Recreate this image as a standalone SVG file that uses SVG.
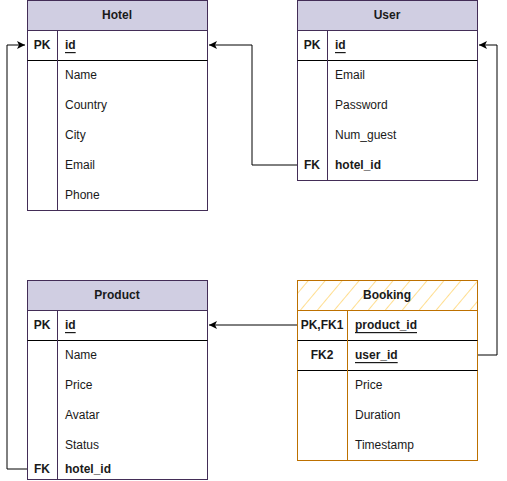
<svg xmlns="http://www.w3.org/2000/svg" width="507" height="481" viewBox="0 0 507 481">
<style>
text{font-family:"Liberation Sans",Arial,sans-serif;font-size:12px;fill:#1a1a1a;dominant-baseline:central}
.h{font-weight:bold;text-anchor:middle}
.k{font-weight:bold;text-anchor:middle}
.b{font-weight:bold}
.u{text-decoration:underline}
.hp{fill:#d0cee2;stroke:#432D57;stroke-width:1}
.bp{fill:#fff;stroke:#432D57;stroke-width:1}
.ho{fill:url(#hatch);stroke:#BD7000;stroke-width:1}
.bo{fill:#fff;stroke:#BD7000;stroke-width:1}
.sep{stroke:#000;stroke-width:1}
.dp{stroke:#432D57;stroke-width:1}
.do{stroke:#BD7000;stroke-width:1}
.c{fill:none;stroke:#000;stroke-width:1}
</style>
<defs>
<pattern id="hatch" patternUnits="userSpaceOnUse" width="13" height="13" patternTransform="rotate(40)">
<rect width="13" height="13" fill="#fff"/>
<line x1="0" y1="0" x2="0" y2="13" stroke="#FFC845" stroke-width="1.2"/>
</pattern>
<marker id="arr" markerWidth="10" markerHeight="10" refX="8" refY="4" orient="auto" markerUnits="userSpaceOnUse">
<path d="M0,0 L8,4 L0,8 L2,4 Z" fill="#000"/>
</marker>
</defs>

<g id="connectors">
<path class="c" d="M297,165 H252 V45 H209" marker-end="url(#arr)"/>
<path class="c" d="M27,469 H7 V45 H25" marker-end="url(#arr)"/>
<path class="c" d="M297,325 H209" marker-end="url(#arr)"/>
<path class="c" d="M477,355 H497 V45 H479" marker-end="url(#arr)"/>
</g>

<g id="hotel">
<rect class="bp" x="27.5" y="0.5" width="180" height="210"/>
<rect class="hp" x="27.5" y="0.5" width="180" height="30"/>
<line class="sep" x1="27.5" y1="60.5" x2="207.5" y2="60.5"/>
<line class="dp" x1="57.5" y1="30.5" x2="57.5" y2="210.5"/>
<text class="h" x="117" y="15">Hotel</text>
<text class="k" x="42" y="45">PK</text>
<text class="b u" x="65" y="45">id</text>
<text x="65" y="75">Name</text>
<text x="65" y="105">Country</text>
<text x="65" y="135">City</text>
<text x="65" y="165">Email</text>
<text x="65" y="195">Phone</text>
</g>

<g id="user">
<rect class="bp" x="297.5" y="0.5" width="180" height="180"/>
<rect class="hp" x="297.5" y="0.5" width="180" height="30"/>
<line class="sep" x1="297.5" y1="60.5" x2="477.5" y2="60.5"/>
<line class="dp" x1="327.5" y1="30.5" x2="327.5" y2="180.5"/>
<text class="h" x="387" y="15">User</text>
<text class="k" x="312" y="45">PK</text>
<text class="b u" x="335" y="45">id</text>
<text x="335" y="75">Email</text>
<text x="335" y="105">Password</text>
<text x="335" y="135">Num_guest</text>
<text class="k" x="312" y="165">FK</text>
<text class="b" x="335" y="165">hotel_id</text>
</g>

<g id="product">
<rect class="bp" x="27.5" y="280.5" width="180" height="199"/>
<rect class="hp" x="27.5" y="280.5" width="180" height="30"/>
<line class="sep" x1="27.5" y1="340.5" x2="207.5" y2="340.5"/>
<line class="dp" x1="57.5" y1="310.5" x2="57.5" y2="479.5"/>
<text class="h" x="117" y="295">Product</text>
<text class="k" x="42" y="325">PK</text>
<text class="b u" x="65" y="325">id</text>
<text x="65" y="355">Name</text>
<text x="65" y="385">Price</text>
<text x="65" y="415">Avatar</text>
<text x="65" y="445">Status</text>
<text class="k" x="42" y="469">FK</text>
<text class="b" x="65" y="469">hotel_id</text>
</g>

<g id="booking">
<rect class="bo" x="297.5" y="280.5" width="180" height="180"/>
<rect class="ho" x="297.5" y="280.5" width="180" height="30"/>
<line class="sep" x1="297.5" y1="340.5" x2="477.5" y2="340.5"/>
<line class="sep" x1="297.5" y1="370.5" x2="477.5" y2="370.5"/>
<line class="do" x1="347.5" y1="310.5" x2="347.5" y2="460.5"/>
<text class="h" x="387" y="295">Booking</text>
<text class="k" x="322" y="325">PK,FK1</text>
<text class="b u" x="355" y="325">product_id</text>
<text class="k" x="322" y="355">FK2</text>
<text class="b u" x="355" y="355">user_id</text>
<text x="355" y="385">Price</text>
<text x="355" y="415">Duration</text>
<text x="355" y="445">Timestamp</text>
</g>
</svg>
